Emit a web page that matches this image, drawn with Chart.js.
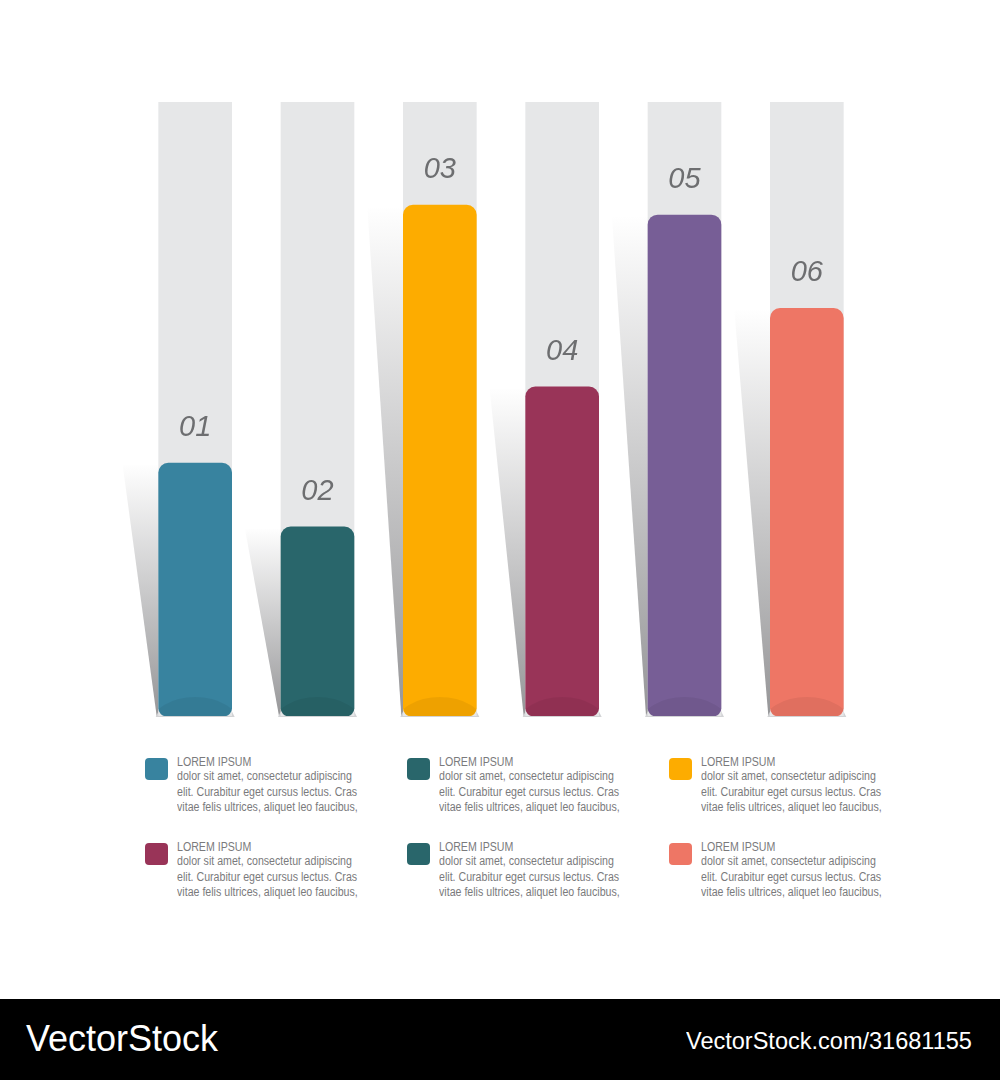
<!DOCTYPE html>
<html>
<head>
<meta charset="utf-8">
<script src="https://cdn.jsdelivr.net/npm/chart.js@4.4.1/dist/chart.umd.min.js"></script>
<style>
  html, body { margin: 0; padding: 0; background: #fff; }
  body { width: 1000px; height: 1080px; position: relative; overflow: hidden; font-family: "Liberation Sans", Arial, sans-serif; }
  #chart { position: absolute; left: 0; top: 0; }
  .item { position: absolute; width: 262px; height: 80px; }
  .swatch { position: absolute; left: 0; top: 2px; width: 23px; height: 22px; border-radius: 4px; }
  .txt { position: absolute; left: 32px; top: 0; color: #7a7a7c; font-size: 12.5px; transform: scaleX(0.85); transform-origin: left top; white-space: nowrap; }
  .txt .t { line-height: 13px; }
  .txt .b { line-height: 15.5px; }
  .banner { position: absolute; left: 0; top: 999px; width: 1000px; height: 81px; background: #000; color: #fff; }
  .banner .l { position: absolute; left: 26px; top: 19px; font-size: 36px; }
  .banner .r { position: absolute; left: 686px; top: 28px; font-size: 24px; transform: scaleX(0.98); transform-origin: left top; }
</style>
</head>
<body>
<canvas id="chart" width="1000" height="740"></canvas>
<div id="legend"></div>
<div class="banner"><span class="l">VectorStock</span><span class="r">VectorStock.com/31681155</span></div>
<script>
// bar labels and values (0-100 scale)
const categories = ["01", "02", "03", "04", "05", "06"];
const values = [41.2, 30.8, 83.2, 53.6, 81.6, 66.4];
const trackValues = [100, 100, 100, 100, 100, 100];
const barColors = ["#38839f", "#29666b", "#fdac00", "#993458", "#775e96", "#ee7665"];

// legend block
const legendTitles = ["LOREM IPSUM", "LOREM IPSUM", "LOREM IPSUM", "LOREM IPSUM", "LOREM IPSUM", "LOREM IPSUM"];
const legendColors = ["#38839f", "#29666b", "#fdac00", "#993458", "#29666b", "#ee7665"];
const legendBody = [
  "dolor sit amet, consectetur adipiscing",
  "elit. Curabitur eget cursus lectus. Cras",
  "vitae felis ultrices, aliquet leo faucibus,"
];

//shadow wedge, base strip and bottom shading for each bar
const decoPlugin = {
  id: "deco",
  beforeDatasetsDraw(chart) {
    const ctx = chart.ctx;
    const meta = chart.getDatasetMeta(0);
    meta.data.forEach(function (el) {
      const left = el.x - el.width / 2;
      const right = el.x + el.width / 2;
      const top = el.y;
      const bottom = el.base;
      let g = ctx.createLinearGradient(0, top, 0, bottom);
      g.addColorStop(0, "rgba(255,255,255,1)");
      g.addColorStop(1, "rgba(150,150,152,1)");
      ctx.save();
      ctx.fillStyle = g;
      ctx.beginPath();
      ctx.moveTo(left - 36, top + 2);
      ctx.lineTo(left, top + 2);
      ctx.lineTo(left, bottom);
      ctx.lineTo(left - 2, bottom);
      ctx.closePath();
      ctx.fill();
      //thin base under the column
      ctx.fillStyle = "#d2d3d5";
      ctx.beginPath();
      ctx.moveTo(left - 3, bottom + 1);
      ctx.lineTo(right + 3, bottom + 1);
      ctx.lineTo(right, bottom - 5);
      ctx.lineTo(left, bottom - 5);
      ctx.closePath();
      ctx.fill();
      ctx.restore();
    });
  },
  afterDatasetsDraw(chart) {
    const ctx = chart.ctx;
    const meta = chart.getDatasetMeta(0);
    meta.data.forEach(function (el, i) {
      const left = el.x - el.width / 2;
      const top = el.y;
      const bottom = el.base;
      ctx.save();
      ctx.beginPath();
      ctx.roundRect(left, top, el.width, bottom - top, [10, 10, 8, 8]);
      ctx.clip();
      ctx.fillStyle = "rgba(0,0,0,0.06)";
      ctx.beginPath();
      ctx.ellipse(el.x, bottom + 8, el.width * 0.6, 27, 0, 0, Math.PI * 2);
      ctx.fill();
      ctx.restore();

      //number above the bar
      ctx.save();
      ctx.fillStyle = "#6d6e70";
      ctx.font = "italic 29px 'Liberation Sans', Arial, sans-serif";
      ctx.textAlign = "center";
      ctx.textBaseline = "alphabetic";
      ctx.fillText(categories[i], el.x, top - 27);
      ctx.restore();
    });
  }
};

let ctx = document.getElementById("chart").getContext("2d");
let chart = new Chart(ctx, {
  type: "bar",
  data: {
    labels: categories,
    datasets: [
      {
        data: values,
        backgroundColor: barColors,
        barThickness: 73,
        borderRadius: { topLeft: 10, topRight: 10, bottomLeft: 8, bottomRight: 8 },
        borderSkipped: false,
        grouped: false,
        order: 0,
      },
      {
        data: trackValues,
        backgroundColor: "#e6e7e8",
        barThickness: 73,
        borderRadius: 0,
        grouped: false,
        order: 1,
      },
    ],
  },
  options: {
    responsive: false,
    animation: false,
    layout: { padding: { left: 134, right: 132, top: 102, bottom: 24 } },
    plugins: { legend: { display: false }, tooltip: { enabled: false } },
    scales: {
      x: { display: false },
      y: { display: false, min: 0, max: 100 },
    },
  },
  plugins: [decoPlugin],
});

//legend grid, 3 columns x 2 rows
const legendLeft = [145, 407, 669];
const legendTop = [756, 841];
let legendHtml = "";
legendTitles.forEach(function (title, i) {
  let col = i % 3, row = Math.floor(i / 3);
  legendHtml +=
    '<div class="item" style="left:' + legendLeft[col] + "px;top:" + legendTop[row] + 'px">' +
    '<div class="swatch" style="background:' + legendColors[i] + '"></div>' +
    '<div class="txt"><div class="t">' + title + "</div>" +
    legendBody.map(function (line) { return '<div class="b">' + line + "</div>"; }).join("") +
    "</div></div>";
});
document.getElementById("legend").innerHTML = legendHtml;
</script>
</body>
</html>
